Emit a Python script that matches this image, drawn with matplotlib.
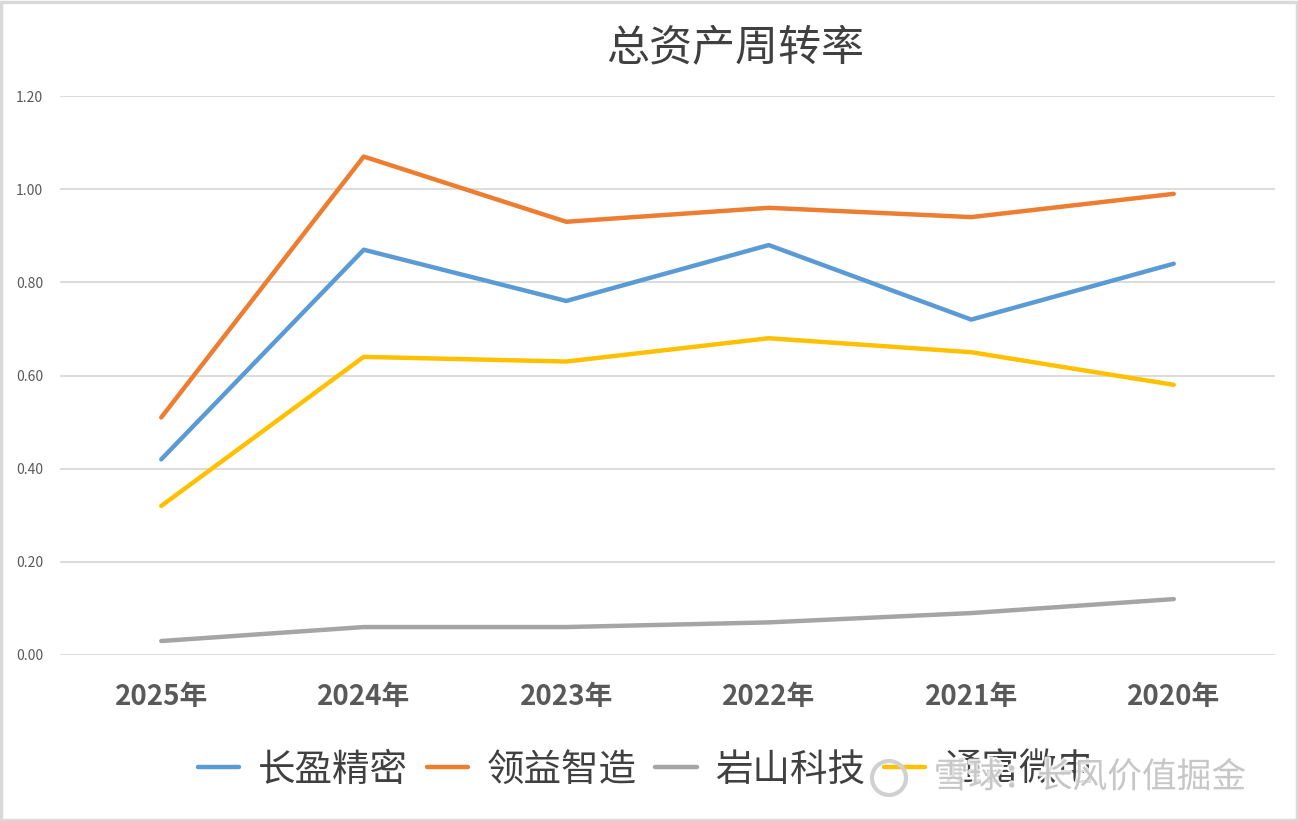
import matplotlib
matplotlib.use("Agg")
import matplotlib.pyplot as plt
import matplotlib.patheffects as pe
from matplotlib.patches import Rectangle, Ellipse

plt.rcParams['font.family'] = ['Noto Sans CJK SC', 'DejaVu Sans']

years = ["2025年", "2024年", "2023年", "2022年", "2021年", "2020年"]
series_names = ["长盈精密", "领益智造", "岩山科技", "通富微电"]
changying = [0.42, 0.87, 0.76, 0.88, 0.72, 0.84]
lingyi = [0.51, 1.07, 0.93, 0.96, 0.94, 0.99]
yanshan = [0.03, 0.06, 0.06, 0.07, 0.09, 0.12]
tongfu = [0.32, 0.64, 0.63, 0.68, 0.65, 0.58]
colors = ["#5B9BD5", "#ED7D31", "#A5A5A5", "#FFC000"]
yticks = [0.0, 0.2, 0.4, 0.6, 0.8, 1.0, 1.2]
title = "总资产周转率"
watermark = "雪球：长风价值掘金"

W, H = 1298, 821
fig = plt.figure(figsize=(W / 100, H / 100), dpi=100)
ax = fig.add_axes([60 / W, 1 - 655 / H, (1275 - 60) / W, (655 - 96) / H])

x = list(range(len(years)))
for vals, name, c in zip([changying, lingyi, yanshan, tongfu], series_names, colors):
    ax.plot(x, vals, color=c, lw=3.2, label=name, solid_capstyle='round', solid_joinstyle='round', zorder=3)

ax.set_xlim(-0.5, len(years) - 0.5)
ax.set_ylim(0, 1.2)
ax.set_yticks(yticks)
ax.set_yticklabels([f"{v:.2f}" for v in yticks], fontsize=10, color="#595959")
ax.set_xticks(x)
ax.set_xticklabels(years, fontsize=20, fontweight='bold', color="#595959")
ax.tick_params(axis='both', length=0)
ax.tick_params(axis='x', pad=20)
ax.tick_params(axis='y', pad=12)
ax.grid(axis='y', color="#D9D9D9", lw=1.3, zorder=0)
for s in ax.spines.values():
    s.set_visible(False)

fig.text(735 / W, 1 - 48 / H, title, ha='center', va='center', fontsize=31, color="#404040")

leg = fig.legend(loc='center', bbox_to_anchor=(646 / W, 1 - 770 / H), ncol=4, frameon=False,
                 fontsize=27, handlelength=1.1, handletextpad=0.5, columnspacing=0.5)
for t in leg.get_texts():
    t.set_color("#404040")

# watermark
fig.text(1090 / W, 1 - 778 / H, watermark, ha='center', va='center', fontsize=25, color="#BFBFBF",
         alpha=0.85, path_effects=[pe.withStroke(linewidth=3, foreground='white')], zorder=10)
circ = Ellipse((889 / W, 1 - 778 / H), 34 / W, 34 / H, transform=fig.transFigure, fill=False,
               edgecolor="#D0D0D0", lw=3, zorder=10)
fig.patches.append(circ)

# outer border
fig.patches.append(Rectangle((0.001, 0.001), 0.998, 0.997, transform=fig.transFigure, fill=False,
                             edgecolor="#D9D9D9", lw=2.5))

fig.savefig("out.png", dpi=100, facecolor='white')
